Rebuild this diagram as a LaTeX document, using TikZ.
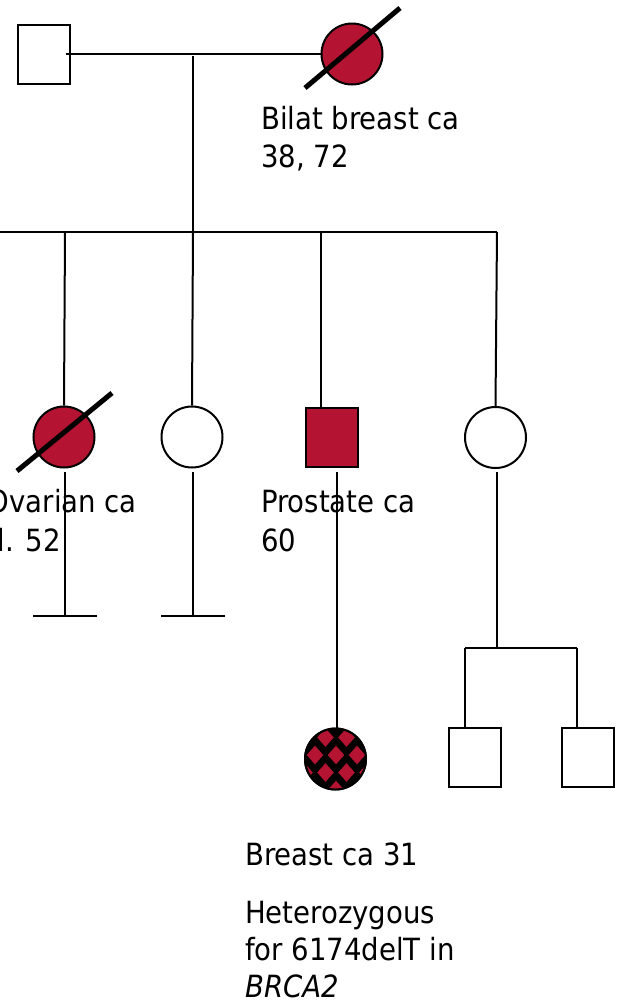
\documentclass[tikz,border=0pt]{standalone}
\usepackage{fontspec}
\setmainfont{DejaVu Sans Condensed}
\definecolor{ca}{RGB}{180,20,50}
\begin{document}
\begin{tikzpicture}[x=1pt,y=-1pt,
  ln/.style={line width=2pt},
  sq/.style={draw, line width=2pt, rectangle, minimum width=52pt, minimum height=59pt, inner sep=0pt, fill=white},
  ci/.style={draw, line width=2pt, circle, minimum size=61pt, inner sep=0pt, fill=white},
  aff/.style={fill=ca},
  slash/.style={line width=5pt},
  lbl/.style={anchor=base west, inner sep=0pt, font=\fontsize{30.6}{36}\selectfont}]
\useasboundingbox (0,0) rectangle (616,1007);
% generation I
\node[sq] (f) at (43.5,54) {};
\node[ci, aff] (m) at (352,54) {};
% generation II
\node[ci, aff] (d1) at (64,437) {};
\node[ci] (d2) at (192,437) {};
\node[sq, aff] (s3) at (331.5,437.5) {};
\node[ci] (d4) at (495.5,437.5) {};
% generation III
\node[ci, fill=black] (pb) at (335.5,759) {};
\node[sq] (g1) at (475,757.5) {};
\node[sq] (g2) at (587.5,757.5) {};
% coordinates
\coordinate (mid) at (193,56);
\coordinate (sibL) at (-5,232);
\coordinate (sib1) at (65,232);
\coordinate (sib2) at (193,232);
\coordinate (sib3) at (321,232);
\coordinate (sib4) at (497,232);
\coordinate (t1) at (65,472);
\coordinate (b1) at (65,616);
\coordinate (bl1) at (33,616);
\coordinate (br1) at (97,616);
\coordinate (t2) at (193,472);
\coordinate (b2) at (193,616);
\coordinate (bl2) at (161,616);
\coordinate (br2) at (225,616);
\coordinate (t3) at (337,472);
\coordinate (t4) at (497,472);
\coordinate (j4) at (497,648);
\coordinate (jl) at (465,648);
\coordinate (jr) at (577,648);
% lines
\draw[ln] ([xshift=-5pt]f.east) -- (m.west);
\draw[ln] (mid) -- (sib2);
\draw[ln] (sibL) -- (sib4);
\draw[ln] (sib1) -- (d1.north);
\draw[ln] (sib2) -- (d2.north);
\draw[ln] (sib3) -- (sib3 |- s3.north);
\draw[ln] (sib4) -- (d4.north);
\draw[ln] (t1) -- (b1);
\draw[ln] (bl1) -- (br1);
\draw[ln] (t2) -- (b2);
\draw[ln] (bl2) -- (br2);
\draw[ln] (t3) -- (t3 |- pb.north);
\draw[ln] (t4) -- (j4);
\draw[ln] (jl) -- (jr);
\draw[ln] (jl) -- (jl |- g1.north);
\draw[ln] (jr) -- (jr |- g2.north);
% checkered proband: red diamonds on black
\begin{scope}
  \clip (pb.center) circle (30.5pt);
  \foreach \i in {-4,...,4} {
    \foreach \j in {-3,...,3} {
      \pgfmathtruncatemacro{\pty}{mod(\i+\j+100,2)}
      \ifnum\pty=0
        \fill[ca] ({336+10.5*\i-8.3},{755+17.5*\j}) -- ({336+10.5*\i},{755+17.5*\j-9.3}) -- ({336+10.5*\i+8.3},{755+17.5*\j}) -- ({336+10.5*\i},{755+17.5*\j+9.3}) -- cycle;
      \fi
    }
  }
\end{scope}
\draw[ln] (pb.center) circle (30.5pt);
% deceased slashes
\coordinate (ms1) at (305,88);
\coordinate (ms2) at (400,8);
\draw[slash] (ms1) -- (ms2);
\coordinate (ds1) at (17,471);
\coordinate (ds2) at (112,393);
\draw[slash] (ds1) -- (ds2);
% labels
\node[lbl] (lb1) at (261,129) {Bilat breast ca};
\node[lbl] (lb2) at (261,167) {38, 72};
\node[lbl, anchor=base east] (lo1) at (137,512) {Ovarian ca};
\node[lbl] (lo2) at ([yshift=-39pt]lo1.base west) {d. 52};
\node[lbl] (lp1) at (261,512) {Prostate ca};
\node[lbl] (lp2) at (261,551) {60};
\node[lbl] (lc1) at (245,865) {Breast ca 31};
\node[lbl] (lc2) at (245,923) {Heterozygous};
\node[lbl] (lc3) at (245,960) {for 6174delT in};
\node[lbl] (lc4) at (245,997) {\textit{BRCA2}};
\end{tikzpicture}
\end{document}
